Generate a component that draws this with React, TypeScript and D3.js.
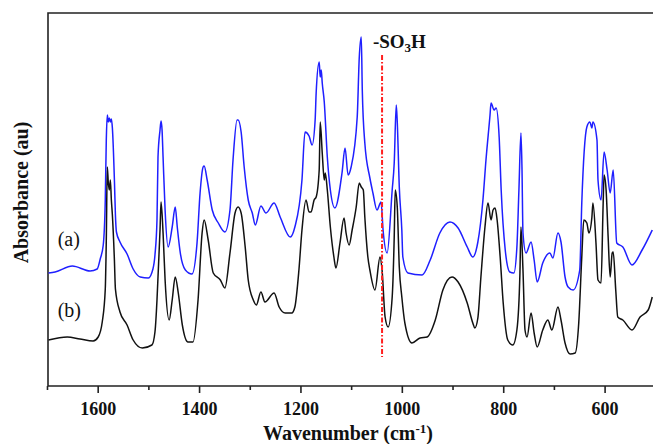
import React, { useEffect, useRef } from "react";
import * as d3 from "d3";

// spectrum (a) - blue
const waveA = [
  1698, 1685, 1651, 1616, 1602, 1596, 1590, 1586, 1584, 1582, 1580, 1578, 1576, 1574, 1572, 1568,
  1566, 1564, 1557, 1543, 1531, 1517, 1501, 1492, 1488, 1484, 1482, 1478, 1476, 1474, 1472, 1468,
  1462, 1454, 1448, 1444, 1438, 1428, 1415, 1405, 1399, 1393, 1391, 1385, 1375, 1363, 1350, 1340,
  1334, 1326, 1324, 1318, 1312, 1304, 1296, 1290, 1279, 1269, 1253, 1241, 1221, 1212, 1198, 1192,
  1184, 1178, 1172, 1170, 1164, 1162, 1160, 1158, 1154, 1148, 1142, 1133, 1119, 1113, 1107, 1101,
  1089, 1085, 1081, 1079, 1074, 1064, 1058, 1050, 1042, 1038, 1030, 1020, 1016, 1012, 1010, 1006,
  1001, 999, 989, 961, 945, 926, 906, 890, 872, 861, 851, 841, 835, 827, 825, 819,
  815, 809, 805, 797, 788, 780, 774, 770, 766, 764, 762, 756, 746, 740, 734, 723,
  709, 703, 693, 687, 679, 673, 663, 650, 646, 636, 630, 626, 624, 616, 614, 608,
  602, 596, 590, 584, 577, 565, 547, 527, 507
];
const absA = [
  1.13, 1.14, 1.2, 1.15, 1.17, 1.27, 1.41, 1.86, 2.46, 2.71, 2.64, 2.68, 2.64, 2.67, 2.58, 2.06,
  1.71, 1.54, 1.44, 1.32, 1.17, 1.09, 1.08, 1.17, 1.31, 1.66, 2.29, 2.56, 2.65, 2.56, 2.29, 1.76,
  1.39, 1.59, 1.79, 1.59, 1.33, 1.16, 1.12, 1.43, 1.93, 2.19, 2.2, 2.06, 1.76, 1.63, 1.54, 1.76,
  2.26, 2.66, 2.66, 2.54, 2.19, 1.86, 1.73, 1.61, 1.8, 1.73, 1.83, 1.69, 1.49, 1.59, 2.06, 2.54,
  2.5, 2.41, 2.66, 2.93, 3.24, 3.09, 3.16, 3.03, 2.84, 2.29, 1.96, 1.78, 2.13, 2.38, 2.11, 2.19,
  2.69, 3.28, 3.49, 2.96, 2.43, 2.08, 1.93, 1.76, 1.84, 1.56, 1.33, 1.96, 2.23, 2.81, 2.64, 1.99,
  1.56, 1.29, 1.13, 1.11, 1.26, 1.53, 1.64, 1.58, 1.39, 1.29, 1.44, 1.86, 2.26, 2.71, 2.83, 2.76,
  2.78, 2.49, 1.96, 1.36, 1.14, 1.13, 1.39, 1.96, 2.53, 2.19, 1.53, 1.33, 1.44, 1.26, 1.04, 1.23,
  1.33, 1.28, 1.53, 1.44, 1.09, 0.99, 0.96, 1.16, 1.83, 2.59, 2.64, 2.58, 2.64, 2.46, 2.06, 1.86,
  2.34, 2.16, 1.93, 2.16, 1.43, 1.39, 1.21, 1.36, 1.56
];

// spectrum (b) - black
const waveB = [
  1698, 1661, 1636, 1610, 1600, 1592, 1586, 1584, 1582, 1580, 1578, 1576, 1574, 1572, 1568, 1566,
  1557, 1543, 1531, 1513, 1494, 1488, 1484, 1482, 1478, 1476, 1472, 1468, 1460, 1454, 1448, 1442,
  1434, 1423, 1413, 1403, 1395, 1391, 1383, 1373, 1359, 1350, 1340, 1330, 1324, 1318, 1310, 1304,
  1294, 1288, 1279, 1271, 1253, 1243, 1231, 1218, 1212, 1204, 1198, 1190, 1184, 1180, 1174, 1170,
  1164, 1162, 1158, 1154, 1152, 1148, 1142, 1135, 1131, 1123, 1115, 1111, 1105, 1099, 1091, 1085,
  1081, 1077, 1074, 1068, 1064, 1054, 1044, 1040, 1034, 1028, 1020, 1016, 1014, 1010, 1006, 1001,
  995, 981, 965, 951, 935, 920, 902, 890, 872, 861, 857, 851, 845, 837, 831, 825,
  821, 817, 813, 807, 801, 792, 782, 774, 768, 766, 762, 758, 754, 746, 740, 734,
  723, 713, 705, 693, 687, 679, 669, 659, 652, 646, 642, 636, 632, 626, 624, 618,
  614, 608, 604, 602, 598, 594, 590, 586, 584, 579, 575, 565, 547, 531, 515, 507
];
const absB = [
  0.46, 0.49, 0.47, 0.45, 0.49, 0.64, 0.97, 1.46, 2.19, 2.03, 1.96, 2.06, 1.86, 1.71, 1.26, 0.97,
  0.74, 0.61, 0.46, 0.38, 0.41, 0.54, 0.86, 1.09, 1.56, 1.84, 1.53, 1.06, 0.66, 0.86, 1.09, 0.93,
  0.61, 0.44, 0.44, 0.86, 1.53, 1.66, 1.46, 1.13, 1.06, 0.98, 1.33, 1.73, 1.79, 1.73, 1.39, 1.06,
  0.86, 0.81, 0.94, 0.84, 0.93, 0.79, 0.73, 0.73, 0.79, 1.16, 1.56, 1.86, 1.74, 1.74, 1.86, 1.89,
  2.16, 2.64, 2.33, 2.06, 2.13, 1.96, 1.59, 1.29, 1.18, 1.43, 1.68, 1.53, 1.41, 1.56, 1.79, 2.03,
  1.99, 1.96, 1.69, 1.29, 1.16, 0.96, 1.29, 1.16, 0.69, 0.59, 0.89, 1.49, 1.96, 1.79, 1.19, 0.89,
  0.63, 0.43, 0.48, 0.49, 0.66, 0.96, 1.09, 1.04, 0.83, 0.63, 0.58, 0.68, 1.09, 1.59, 1.83, 1.66,
  1.76, 1.78, 1.66, 1.29, 0.83, 0.46, 0.41, 0.56, 1.13, 1.59, 1.16, 0.56, 0.49, 0.73, 0.53, 0.39,
  0.56, 0.66, 0.56, 0.79, 0.66, 0.43, 0.32, 0.33, 0.63, 1.29, 1.66, 1.63, 1.53, 1.69, 1.83, 1.43,
  1.06, 1.03, 1.79, 2.11, 1.96, 1.49, 1.09, 1.33, 1.34, 0.96, 0.69, 0.66, 0.56, 0.69, 0.76, 0.89
];

const majorTicks = [1600, 1400, 1200, 1000, 800, 600];
const minorTicks = [1700, 1500, 1300, 1100, 900, 700];
const seriesLabels = ["(a)", "(b)"];
const markerWave = 1040;

const font = "'Liberation Serif', 'Times New Roman', serif";

export default function App() {
  const ref = useRef<SVGSVGElement>(null);

  useEffect(() => {
    const svg = d3.select(ref.current);
    svg.selectAll("*").remove();

    const x = d3.scaleLinear().domain([1699, 505.5]).range([48, 653]);
    const y = d3.scaleLinear().domain([0, 3.73]).range([386, 13]);

    const line = d3
      .line<[number, number]>()
      .x(d => x(d[0]))
      .y(d => y(d[1]))
      .curve(d3.curveMonotoneX);

    // frame (no right side)
    svg
      .append("path")
      .attr("d", `M${x.range()[1]},${y(3.73)}H${x(1699)}V${y(0)}H${x.range()[1]}`)
      .attr("fill", "none")
      .attr("stroke", "#222")
      .attr("stroke-width", 1.6);

    svg
      .selectAll(".major")
      .data(majorTicks)
      .enter()
      .append("line")
      .attr("x1", d => x(d))
      .attr("x2", d => x(d))
      .attr("y1", y(0))
      .attr("y2", y(0) + 7)
      .attr("stroke", "#222")
      .attr("stroke-width", 1.6);

    svg
      .selectAll(".minor")
      .data(minorTicks)
      .enter()
      .append("line")
      .attr("x1", d => x(d))
      .attr("x2", d => x(d))
      .attr("y1", y(0))
      .attr("y2", y(0) + 4)
      .attr("stroke", "#222")
      .attr("stroke-width", 1.6);

    svg
      .selectAll(".ticklabel")
      .data(majorTicks)
      .enter()
      .append("text")
      .attr("x", d => x(d))
      .attr("y", y(0) + 29)
      .attr("text-anchor", "middle")
      .attr("font-family", font)
      .attr("font-weight", "bold")
      .attr("font-size", 18)
      .attr("fill", "#111")
      .text(d => d);

    // spectra
    svg
      .append("path")
      .attr("d", line(waveA.map((w, i) => [w, absA[i]] as [number, number])))
      .attr("fill", "none")
      .attr("stroke", "#1f1fff")
      .attr("stroke-width", 1.5);

    svg
      .append("path")
      .attr("d", line(waveB.map((w, i) => [w, absB[i]] as [number, number])))
      .attr("fill", "none")
      .attr("stroke", "#111")
      .attr("stroke-width", 1.5);

    // -SO3H marker
    svg
      .append("line")
      .attr("x1", x(markerWave))
      .attr("x2", x(markerWave))
      .attr("y1", y(3.31))
      .attr("y2", y(0.29))
      .attr("stroke", "#ff2020")
      .attr("stroke-width", 2)
      .attr("stroke-dasharray", "5,2,1.5,2");

    const so3h = svg
      .append("text")
      .attr("x", x(1058))
      .attr("y", y(3.38))
      .attr("font-family", font)
      .attr("font-weight", "bold")
      .attr("font-size", 19)
      .attr("fill", "#111");
    so3h.append("tspan").text("-SO");
    so3h.append("tspan").attr("font-size", 13).attr("dy", 4).text("3");
    so3h.append("tspan").attr("dy", -4).text("H");

    // series labels
    svg
      .selectAll(".serieslabel")
      .data(seriesLabels)
      .enter()
      .append("text")
      .attr("x", x(1680))
      .attr("y", (d, i) => y([1.4, 0.69][i]))
      .attr("font-family", font)
      .attr("font-size", 20)
      .attr("fill", "#111")
      .text(d => d);

    // axis titles
    const xt = svg
      .append("text")
      .attr("x", 348)
      .attr("y", 440)
      .attr("text-anchor", "middle")
      .attr("font-family", font)
      .attr("font-weight", "bold")
      .attr("font-size", 20)
      .attr("fill", "#111");
    xt.append("tspan").text("Wavenumber (cm");
    xt.append("tspan").attr("font-size", 13).attr("dy", -7).text("-1");
    xt.append("tspan").attr("dy", 7).text(")");

    svg
      .append("text")
      .attr("transform", `translate(28,${(y(0) + y(3.73)) / 2 - 7}) rotate(-90)`)
      .attr("text-anchor", "middle")
      .attr("font-family", font)
      .attr("font-weight", "bold")
      .attr("font-size", 20)
      .attr("fill", "#111")
      .text("Absorbance (au)");
  }, []);

  return (
    <svg
      ref={ref}
      width={653}
      height={444}
      style={{ position: "absolute", left: 0, top: 0, background: "#fff" }}
    />
  );
}
